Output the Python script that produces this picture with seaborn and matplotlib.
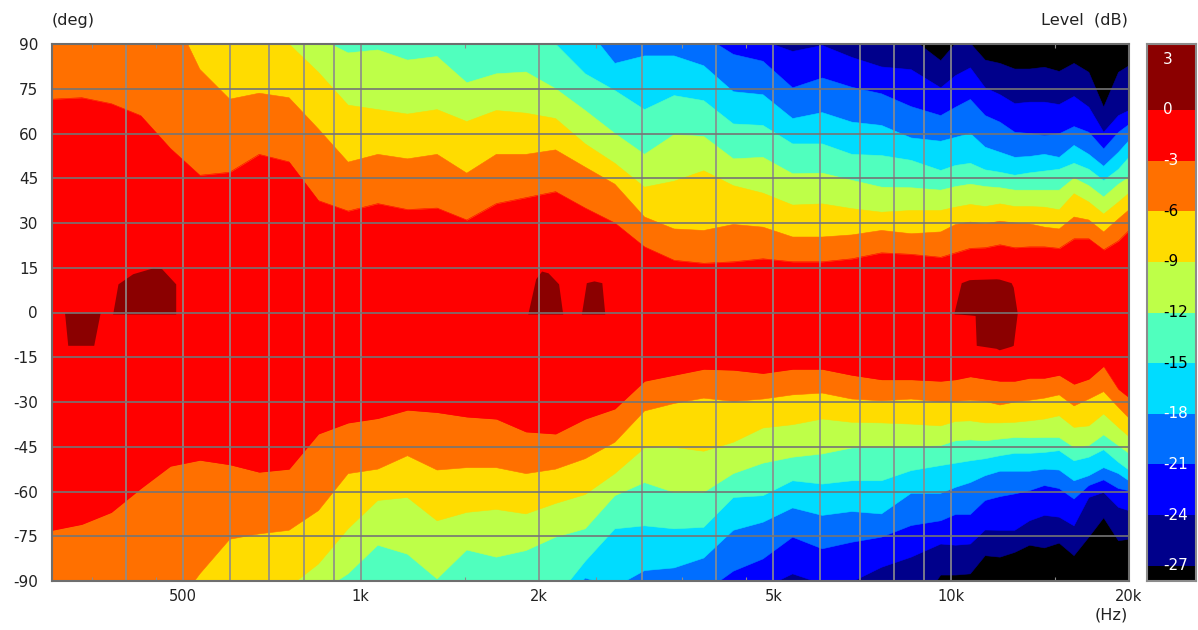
import matplotlib
matplotlib.use("Agg")
import matplotlib.pyplot as plt
import numpy as np
import pandas as pd
import seaborn as sns

OFF = 110  # contour lies beyond the +/-90 degree range at these frequencies

freq = [300,337,378,424,476,534,600,673,756,848,952,
        1069,1200,1347,1512,1697,1905,2138,2400,2694,3024,
        3394,3810,4276,4800,5388,6048,6788,7620,8553,9600,
        10171,10775,11416,12095,12814,13576,14384,15239,16145,17105,18122,19200,20000]

up_m3 = [71.5,72,70,66,55,46,47,53,50.5,37.5,34,
         36.5,34.5,35,31,36.5,38.5,40.5,35,30,22,
         17.5,16.5,17,18,17,17,18,20,19.5,18.5,
         20,21.5,21.7,22.7,21.7,22,22,21.5,24.7,24.7,21,24,27.5]
lo_m3 = [-73,-71,-67,-59,-51.5,-49.5,-51,-53.5,-52.5,-40.7,-37,
         -35.5,-32.7,-33.5,-35,-35.7,-40,-40.7,-35.7,-32.3,-23,
         -21,-19,-19.3,-20.4,-19,-19,-21,-22.5,-22.5,-23,
         -22.5,-21.5,-22.3,-23,-23,-22,-22,-21,-24,-22.3,-18,-25.7,-28.5]
up_m6 = [OFF,OFF,OFF,OFF,102,81.5,71.5,73.5,72,61.5,50.4,
         53,51.5,53,46.7,53,53,54.5,48.7,43,32,
         28,27.5,29.5,28.6,25.3,25.3,26,27.5,26.4,27,
         29.5,30.3,29.7,30.6,30,29.7,28.6,28,32,31,27,31.4,34.4]
lo_m6 = [-OFF,-OFF,-OFF,-OFF,-101,-87.6,-76,-74.2,-73,-66.4,-54,
         -52.5,-48,-52.8,-52,-52,-54,-52.5,-49,-43.5,-33,
         -30.5,-28.7,-29.8,-29,-27.6,-27,-29,-29.6,-29,-30,
         -29.8,-29.4,-29.8,-31,-30,-29.4,-28.7,-27.6,-31.3,-29,-26.5,-31.8,-35.4]
up_m9 = [OFF,OFF,OFF,OFF,OFF,OFF,OFF,100,90,80.5,69.5,
         68,66.5,68,64,67.7,66.8,65,56.5,50,42,
         44,47.5,42.5,40,36,36.4,34.8,33.6,34.2,34.2,
         35.3,36.2,35.5,36.4,35.5,35.5,35.3,34.4,39.8,37,33,37,40]
lo_m9 = [-OFF,-OFF,-OFF,-OFF,-OFF,-OFF,-OFF,-OFF,-92,-84.3,-72.5,
         -63,-62,-69.8,-67,-66,-67.5,-64,-61,-54,-45.4,
         -45.2,-46.5,-43.5,-38.7,-37.6,-35.7,-36.8,-37,-37.4,-38,
         -36.5,-36.3,-37,-37,-36.8,-36.3,-35.7,-34.6,-38.5,-38,-34,-38.5,-41.6]
up_m12 = [OFF,OFF,OFF,OFF,OFF,OFF,OFF,OFF,OFF,92,87,
          88,84.6,85.8,77,80,80.6,75,67.7,60,53,
          59.6,59,51.5,52,46.5,46.7,44.3,42,41.8,41,
          42.2,43,42.2,41.8,41,41,41,41,45,42.5,38.7,43,45.3]
lo_m12 = [-OFF,-OFF,-OFF,-OFF,-OFF,-OFF,-OFF,-OFF,-OFF,-94,-87.6,
          -78,-81,-89.3,-79.6,-82,-79.8,-75.3,-72.5,-61.4,-57,
          -60.3,-60.3,-54,-50.5,-48.5,-47.4,-45.4,-45.2,-45,-44.6,
          -43,-42.7,-43,-42.4,-41.9,-42,-41.9,-41.9,-45.2,-44.6,-41,-44.6,-47.2]
up_m15 = [OFF,OFF,OFF,OFF,OFF,OFF,OFF,OFF,OFF,OFF,OFF,
          OFF,OFF,OFF,OFF,OFF,100,90,80,74.4,68,
          72.7,71,63.2,62.7,56.5,56.5,53,52.6,51,47.6,
          49.3,50,47.8,47,46,46.8,47.4,48,50,48,44.2,48,52]
lo_m15 = [-OFF,-OFF,-OFF,-OFF,-OFF,-OFF,-OFF,-OFF,-OFF,-OFF,-OFF,
          -OFF,-OFF,-OFF,-OFF,-OFF,-OFF,-95.8,-83.4,-72.5,-71.5,
          -72.5,-72,-62,-61.4,-56.4,-57.5,-56.4,-56.4,-53,-51.3,
          -50.5,-49.7,-49,-48,-47.2,-47.2,-46.9,-46.3,-49.7,-48.5,-46,-50.2,-52.8]
up_m18 = [OFF,OFF,OFF,OFF,OFF,OFF,OFF,OFF,OFF,OFF,OFF,
          OFF,OFF,OFF,OFF,OFF,OFF,OFF,96,83.5,86,
          86,82.7,74,73,65,67,63.8,62.7,58.5,57.4,
          58.7,60,55.4,53.7,52,52.3,53,52,56,53,49,53.7,57.6]
lo_m18 = [-OFF,-OFF,-OFF,-OFF,-OFF,-OFF,-OFF,-OFF,-OFF,-OFF,-OFF,
          -OFF,-OFF,-OFF,-OFF,-OFF,-OFF,-100,-89,-92,-86.5,
          -85.6,-82.3,-73,-70.3,-65.5,-68,-66.7,-67.5,-60.6,-60.6,
          -58.6,-57,-54.7,-53.2,-53.2,-53.2,-52.5,-52.8,-56.4,-54.7,-52,-54,-56.4]
up_m21 = [OFF,OFF,OFF,OFF,OFF,OFF,OFF,OFF,OFF,OFF,OFF,
          OFF,OFF,OFF,OFF,OFF,OFF,OFF,OFF,OFF,OFF,
          OFF,92.7,86.5,84.2,75.3,78.6,75.5,73.3,69,66,
          68.8,71.4,66,63.8,60.4,60,59.3,59.9,62.3,60.4,54.8,60.4,63]
lo_m21 = [-OFF,-OFF,-OFF,-OFF,-OFF,-OFF,-OFF,-OFF,-OFF,-OFF,-OFF,
          -OFF,-OFF,-OFF,-OFF,-OFF,-OFF,-OFF,-OFF,-OFF,-OFF,
          -OFF,-93.8,-86.7,-82.6,-75.3,-79.2,-77,-75.3,-71.4,-69.8,
          -67.7,-67.7,-63,-61.7,-60.8,-59.7,-58,-59,-62.5,-58,-56.1,-59,-59.7]
up_m24 = [OFF,OFF,OFF,OFF,OFF,OFF,OFF,OFF,OFF,OFF,OFF,
          OFF,OFF,OFF,OFF,OFF,OFF,OFF,OFF,OFF,OFF,
          OFF,OFF,OFF,91,87.5,89.5,85.5,82.3,81.4,75.3,
          79.4,82,75.3,73,70,70.5,70.5,69.7,72.4,68.8,60.4,66,67.7]
lo_m24 = [-OFF,-OFF,-OFF,-OFF,-OFF,-OFF,-OFF,-OFF,-OFF,-OFF,-OFF,
          -OFF,-OFF,-OFF,-OFF,-OFF,-OFF,-OFF,-OFF,-OFF,-OFF,
          -OFF,-OFF,-OFF,-92.4,-87.6,-90.9,-90.3,-85.4,-82,-77.6,
          -78,-77.6,-72.9,-73,-73,-69.8,-68,-68.6,-71.5,-62,-60.3,-65.3,-66.4]
up_m27 = [OFF,OFF,OFF,OFF,OFF,OFF,OFF,OFF,OFF,OFF,OFF,
          OFF,OFF,OFF,OFF,OFF,OFF,OFF,OFF,OFF,OFF,
          OFF,OFF,OFF,OFF,OFF,OFF,OFF,OFF,92,84.4,
          90.2,90.2,84.6,83.5,81.6,81.6,82.2,80.8,83.5,80.5,68.8,80.5,82.7]
lo_m27 = [-OFF,-OFF,-OFF,-OFF,-OFF,-OFF,-OFF,-OFF,-OFF,-OFF,-OFF,
          -OFF,-OFF,-OFF,-OFF,-OFF,-OFF,-OFF,-OFF,-OFF,-OFF,
          -OFF,-OFF,-OFF,-OFF,-OFF,-OFF,-OFF,-OFF,-102,-88,
          -88,-87.6,-81.5,-82,-80.4,-78,-78.9,-77.3,-81.5,-75.3,-68.8,-76.5,-76]

# Regions above 0 dB: frequency, upper angle, lower angle
peak1_f = [315,319,353,362];            peak1_u = [0,0,0,0];              peak1_l = [0,-11,-11,0]
peak2_f = [380,388,411,445,460,486];    peak2_u = [-0.5,9.6,13,15,14.7,9.6]; peak2_l = [-0.5,-0.5,-0.5,-0.5,-0.5,-0.5]
peak3_f = [1918,1978,2024,2076,2163,2198]; peak3_u = [-0.5,11.3,13.9,13.3,9.6,-0.5]; peak3_l = [-0.5]*6
peak4_f = [2364,2410,2483,2560,2590];   peak4_u = [-0.5,10,10.6,10,-0.5];  peak4_l = [-0.5]*5
peak5_f = [10110,10397,10726,10975,11024,11912,12055,12630,12734,12930]
peak5_u = [0,10,11,11.1,11.1,11.3,11.2,10,8.5,0]
peak5_l = [-0.5,-0.6,-0.8,-1,-11,-12,-12.5,-11.3,-11,-0.5]

level_names = ["-27","-24","-21","-18","-15","-12","-9","-6","-3"]
uppers = [up_m27,up_m24,up_m21,up_m18,up_m15,up_m12,up_m9,up_m6,up_m3]
lowers = [lo_m27,lo_m24,lo_m21,lo_m18,lo_m15,lo_m12,lo_m9,lo_m6,lo_m3]
band_colors = ["#00008B","#0000FF","#006EFF","#00DCFF","#50FFBE","#BEFF48","#FFDC00","#FF7000","#FF0000"]
peak_color = "#8B0000"

bar_edges = [-27.9,-27,-24,-21,-18,-15,-12,-9,-6,-3,0,3.9]
bar_colors = ["#000000"] + band_colors + [peak_color]
bar_ticks = [3,0,-3,-6,-9,-12,-15,-18,-21,-24,-27]
bar_text = ["white","white","white","black","black","black","black","white","white","white","white"]

grid_freqs = [400,500,600,700,800,900,1000,2000,3000,4000,5000,6000,7000,8000,9000,10000,20000]
freq_labels = {500:"500",1000:"1k",2000:"2k",5000:"5k",10000:"10k",20000:"20k"}
minor_freqs = [350,450,1500,2500,3500,4500,15000]
deg_ticks = list(range(-90,91,15))

sns.set_theme(style="white", rc={"font.size":10.5,
                                 "text.color":"#222222","axes.labelcolor":"#222222",
                                 "xtick.color":"#222222","ytick.color":"#222222"})
plt.rcParams["font.family"] = ["DejaVu Sans"]
W,H = 1198,630
fig = plt.figure(figsize=(W/100,H/100), dpi=100, facecolor="white")
ax = fig.add_axes([52/W,(H-581)/H,1077/W,537/H])
cax = fig.add_axes([1147/W,(H-581)/H,49/W,537/H])

ax.set_xscale("log")
ax.set_facecolor("black")
for name,u,l,c in zip(level_names,uppers,lowers,band_colors):
    ax.fill_between(freq,l,u,color=c,lw=0,zorder=1)
    df = pd.DataFrame({"freq":freq+freq,"deg":u+l,"side":["u"]*len(freq)+["l"]*len(freq)})
    sns.lineplot(data=df,x="freq",y="deg",units="side",estimator=None,color=c,lw=0.4,ax=ax,legend=False,zorder=1)
for f,u,l in [(peak1_f,peak1_u,peak1_l),(peak2_f,peak2_u,peak2_l),(peak3_f,peak3_u,peak3_l),
              (peak4_f,peak4_u,peak4_l),(peak5_f,peak5_u,peak5_l)]:
    ax.fill_between(f,l,u,color=peak_color,lw=0,zorder=1.5)

ax.set_xlim(300,20000)
ax.set_ylim(-90,90)
ax.set_xlabel(""); ax.set_ylabel("")
ax.set_xticks(grid_freqs)
ax.set_xticklabels([freq_labels.get(f,"") for f in grid_freqs])
ax.set_xticks(minor_freqs,minor=True)
ax.set_xticklabels([""]*len(minor_freqs),minor=True)
ax.set_yticks(deg_ticks)
ax.set_yticklabels([str(d) for d in deg_ticks])
ax.set_axisbelow(False)
ax.xaxis.grid(True,which="major",color="#8C8C8C",lw=1.2,zorder=3)
ax.yaxis.grid(True,which="major",color="#757575",lw=1.2,zorder=3)
ax.tick_params(axis="x",which="major",length=0,pad=6,labelsize=10.5)
ax.tick_params(axis="y",which="major",length=0,pad=10,labelsize=11)
ax.tick_params(axis="x",which="minor",length=3,width=0.8,direction="in",top=True,bottom=True,color="#8C8C8C")
for s in ax.spines.values():
    s.set_visible(True); s.set_color("#6E6E6E"); s.set_linewidth(1.5); s.set_zorder(5)

fig.text(52/W,1-20/H,"(deg)",ha="left",va="center",fontsize=11.6)
fig.text(1128/W,1-20/H,"Level  (dB)",ha="right",va="center",fontsize=11.6)
fig.text(1128/W,1-615/H,"(Hz)",ha="right",va="center",fontsize=11.6)

for lo,hi,c in zip(bar_edges[:-1],bar_edges[1:],bar_colors):
    cax.bar(0.5,hi-lo,width=1,bottom=lo,color=c,lw=0)
cax.set_xlim(0,1); cax.set_ylim(bar_edges[0],bar_edges[-1])
cax.set_xticks([]); cax.set_yticks(bar_ticks); cax.set_yticklabels([])
cax.tick_params(axis="y",direction="in",length=5.5,width=1,color="#777777",left=True)
for t,c in zip(bar_ticks,bar_text):
    cax.text(16/49,t,str(t),color=c,ha="left",va="center",fontsize=11)
for s in cax.spines.values():
    s.set_visible(True); s.set_color("#8C8C8C"); s.set_linewidth(1.5)

fig.savefig("out.png",dpi=100,facecolor="white")
